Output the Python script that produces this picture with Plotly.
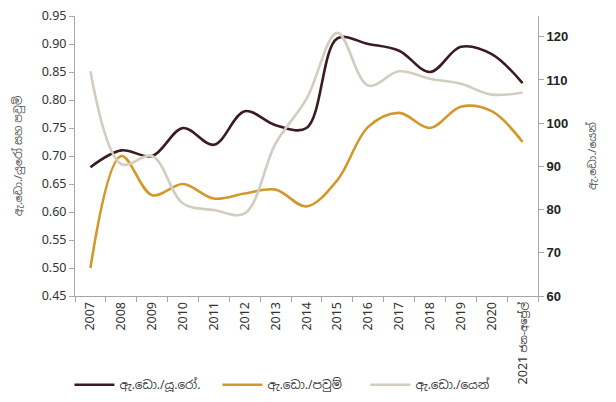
import plotly.graph_objects as go

years = ["2007", "2008", "2009", "2010", "2011", "2012", "2013", "2014",
         "2015", "2016", "2017", "2018", "2019", "2020", "2021 ජන-අප්‍රේල්"]
usd_eur = [0.68, 0.71, 0.70, 0.75, 0.72, 0.78, 0.755, 0.75, 0.91, 0.90, 0.888, 0.85, 0.895, 0.882, 0.83]
usd_gbp = [0.50, 0.70, 0.63, 0.65, 0.624, 0.633, 0.64, 0.61, 0.657, 0.752, 0.777, 0.75, 0.788, 0.78, 0.725]
usd_jpy = [112.0, 90.5, 92.4, 81.4, 79.9, 79.1, 95.3, 105.6, 120.9, 108.7, 112.0, 110.3, 109.1, 106.6, 107.1]

names = ["ඇ.ඩො./යූ.රෝ.", "ඇ.ඩො./පවුම්", "ඇ.ඩො./යෙන්"]
colors = ["#3b1a20", "#d4982a", "#d3ccc0"]

# tick texts: shrink the Sinhala part of the last label so it fits like the reference
ticktext = []
for y in years:
    parts = y.split(" ", 1)
    if len(parts) == 2:
        ticktext.append(parts[0] + " <span style='font-size:10px'>" + parts[1] + "</span>")
    else:
        ticktext.append(y)

fig = go.Figure()
fig.add_trace(go.Scatter(x=years, y=usd_eur, name=names[0], mode="lines",
                         line=dict(color=colors[0], width=2.6, shape="spline", smoothing=1.0)))
fig.add_trace(go.Scatter(x=years, y=usd_gbp, name=names[1], mode="lines",
                         line=dict(color=colors[1], width=2.6, shape="spline", smoothing=1.0)))
fig.add_trace(go.Scatter(x=years, y=usd_jpy, name=names[2], mode="lines", yaxis="y2",
                         line=dict(color=colors[2], width=2.6, shape="spline", smoothing=1.0)))

axis_color = "#a6a6a6"
fig.update_layout(
    width=616, height=402,
    margin=dict(l=75, r=78, t=16, b=106, autoexpand=False),
    paper_bgcolor="white", plot_bgcolor="white",
    font=dict(family="Noto Sans, Noto Sans Sinhala, sans-serif", size=12, color="#333333"),
    showlegend=True,
    legend=dict(orientation="h", x=-0.012, y=-0.265, xanchor="left", yanchor="top",
                font=dict(size=12, color="#404040"), traceorder="normal",
                itemwidth=40, entrywidth=93, entrywidthmode="pixels", tracegroupgap=0),
    xaxis=dict(type="category", tickson="boundaries", ticks="outside", ticklen=5,
               tickcolor=axis_color, showline=True, linecolor=axis_color, linewidth=1,
               showgrid=False, tickangle=-90, tickfont=dict(size=12.5, color="#333333"),
               tickvals=years, ticktext=ticktext,
               range=[-0.5, 14.5], automargin=False),
    yaxis=dict(range=[0.45, 0.95], dtick=0.05, tickformat=".2f", ticks="outside",
               ticklen=5, tickcolor=axis_color, showline=True, linecolor=axis_color,
               showgrid=False, zeroline=False, tickfont=dict(size=12.5, color="#333333"),
               automargin=False,
               title=dict(text="ඇ.ඩො./යුරෝ සහ පවුම්", font=dict(size=11, color="#555555"),
                          standoff=16)),
    yaxis2=dict(range=[60, 124.8], tick0=60, dtick=10, overlaying="y", side="right",
                ticks="outside", ticklen=5, tickcolor=axis_color, showline=True,
                linecolor=axis_color, showgrid=False, zeroline=False, automargin=False,
                tickfont=dict(family="Liberation Sans, Arial", size=13, color="#222222", weight="bold"),
                title=dict(text="ඇ.ඩො./යෙන්", font=dict(size=11, color="#555555"), standoff=20)),
)

fig.write_html("out.html", post_script="document.body.style.margin='0';",
               config={"displayModeBar": False})
